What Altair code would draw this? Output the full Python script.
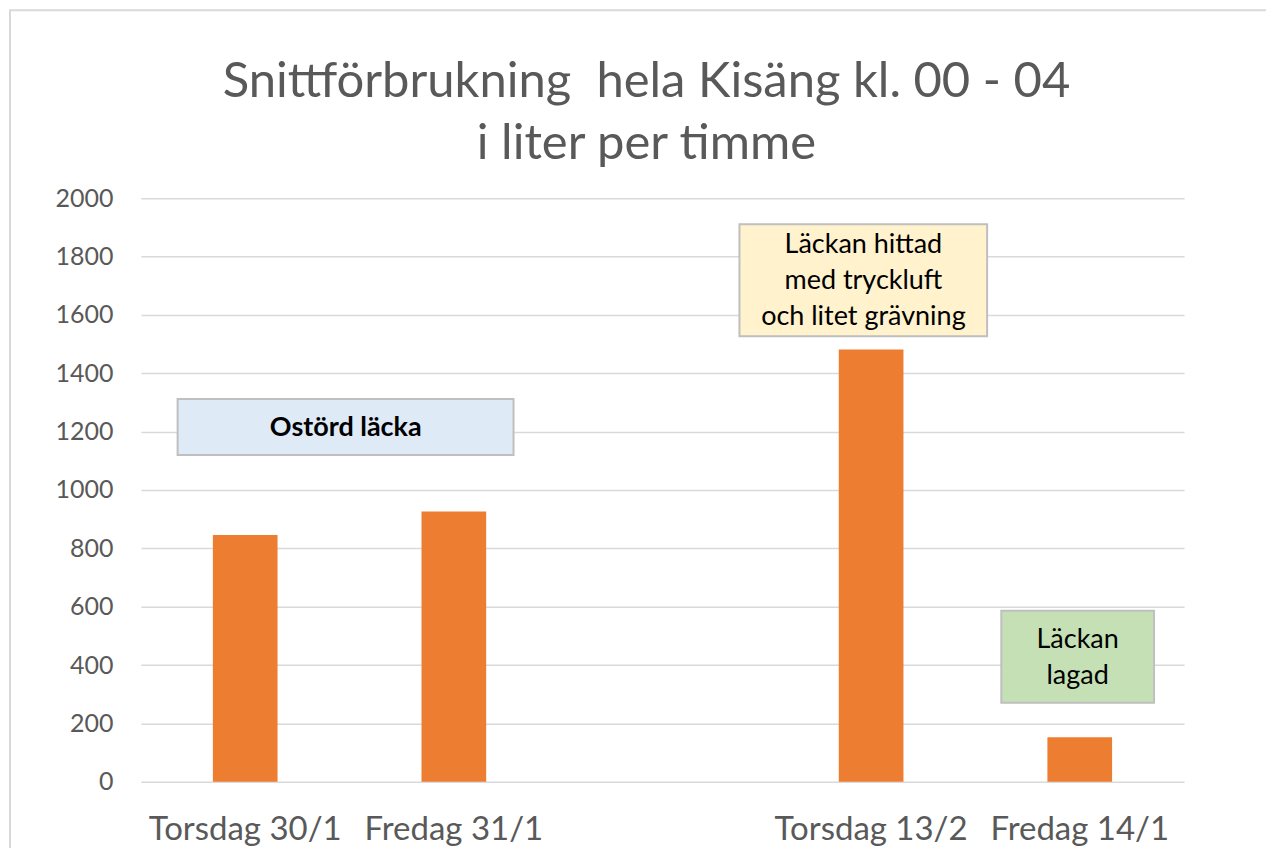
import altair as alt
import pandas as pd

# Categories (third slot is an empty gap in the original chart)
categories = ["Torsdag 30/1", "Fredag 31/1", " ", "Torsdag 13/2", "Fredag 14/1"]
bar_days = ["Torsdag 30/1", "Fredag 31/1", "Torsdag 13/2", "Fredag 14/1"]
bar_values = [846, 926, 1481, 152]

# Callout boxes (x in category-slot units 0..5, y in liters)
box_names = ["Ostörd läcka", "Läckan hittad", "Läckan lagad"]
box_x0 = [0.176, 2.869, 4.124]
box_x1 = [1.786, 4.056, 4.856]
box_y0 = [1120, 1527, 271]
box_y1 = [1312, 1911, 586]
box_fill = ["#DEEBF7", "#FFF2CC", "#C5E0B4"]

# Callout text lines
text_lines = ["Ostörd läcka", "Läckan hittad", "med tryckluft", "och litet grävning", "Läckan", "lagad"]
text_x = [0.982, 3.463, 3.463, 3.463, 4.49, 4.49]
text_y = [1212, 1838, 1716, 1592, 487, 363]
text_weight = ["bold", "normal", "normal", "normal", "normal", "normal"]

title_lines = ["Snittförbrukning \u00a0hela Kisäng kl. 00 - 04", "i liter per timme"]

FONT = "Lato"

bars_df = pd.DataFrame({"dag": bar_days, "liter": bar_values})
box_df = pd.DataFrame({"name": box_names, "x0": box_x0, "x1": box_x1,
                       "y0": box_y0, "y1": box_y1, "fill": box_fill})
text_df = pd.DataFrame({"t": text_lines, "x": text_x, "y": text_y, "w": text_weight})

y_scale = alt.Scale(domain=[0, 2000], nice=False)

bars = alt.Chart(bars_df).mark_bar(color="#ED7D31").encode(
    x=alt.X("dag:N", sort=categories,
            scale=alt.Scale(domain=categories, paddingInner=0.69, paddingOuter=0.345),
            axis=alt.Axis(title=None, labelAngle=0, labelFontSize=33, labelFont=FONT,
                          labelColor="#595959", labelPadding=58, ticks=False, labelLimit=0,
                          domain=False, grid=False, labelBaseline="alphabetic")),
    y=alt.Y("liter:Q", scale=y_scale,
            axis=alt.Axis(title=None, values=list(range(0, 2001, 200)), format="d",
                          labelFontSize=25, labelFont=FONT, labelColor="#595959",
                          labelPadding=28, ticks=False, domain=False, grid=True,
                          gridColor="#D9D9D9", gridWidth=1.5)),
)

ann_x = alt.Scale(domain=[0, 5], nice=False, zero=False)

boxes = alt.Chart(box_df).mark_rect(stroke="#BFBFBF", strokeWidth=2).encode(
    x=alt.X("x0:Q", scale=ann_x, axis=None),
    x2="x1:Q",
    y=alt.Y("y0:Q", scale=y_scale),
    y2="y1:Q",
    fill=alt.Fill("fill:N", scale=None),
)

texts_bold = alt.Chart(text_df[text_df.w == "bold"]).mark_text(
    font=FONT, fontSize=27, fontWeight="bold", color="#000000", baseline="middle", align="center"
).encode(
    x=alt.X("x:Q", scale=ann_x, axis=None),
    y=alt.Y("y:Q", scale=y_scale),
    text="t:N",
)

texts_norm = alt.Chart(text_df[text_df.w == "normal"]).mark_text(
    font=FONT, fontSize=27, color="#000000", baseline="middle", align="center"
).encode(
    x=alt.X("x:Q", scale=ann_x, axis=None),
    y=alt.Y("y:Q", scale=y_scale),
    text="t:N",
)

border = alt.Chart(pd.DataFrame({"a": [0]})).mark_rect(
    fillOpacity=0, stroke="#D9D9D9", strokeWidth=2
).encode(
    x=alt.value(-131), x2=alt.value(1300), y=alt.value(-188), y2=alt.value(900)
)

chart = alt.layer(border, bars, boxes, texts_bold, texts_norm).resolve_scale(
    x="independent"
).properties(
    width=1044,
    height=584,
    background="white",
    autosize=alt.AutoSizeParams(type="none"),
    padding={"left": 133, "top": 190, "right": 82, "bottom": 66},
    title=alt.TitleParams(text=title_lines, fontSize=49, font=FONT, fontWeight="normal",
                          color="#595959", lineHeight=62, anchor="middle", frame="group",
                          baseline="alphabetic", offset=-199, dx=-16),
).configure_view(stroke=None)

chart.save("out.html", embed_options={"renderer": "svg", "actions": False})
